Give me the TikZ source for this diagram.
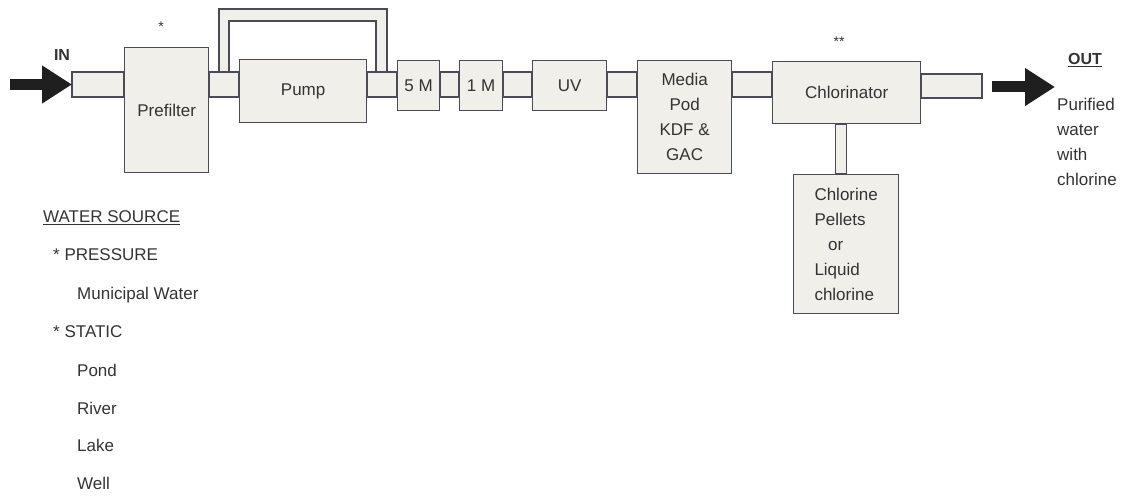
\documentclass[tikz,border=0pt]{standalone}
\usepackage{fontspec}
\setmainfont{Liberation Sans}
\usepackage{xcolor}
\usetikzlibrary{arrows.meta, positioning, calc}

\definecolor{pipeline}{HTML}{4A4A58}
\definecolor{boxfill}{HTML}{F1EFEA}
\definecolor{inktext}{HTML}{333333}

\tikzset{
  unit/.style={draw=pipeline, fill=boxfill, line width=1.3pt, text=inktext,
    font=\fontsize{17}{25}\selectfont, align=center, inner sep=0pt, anchor=north west},
  pipe/.style={draw=pipeline, fill=boxfill, line width=1.3pt},
  flow/.style={-{Triangle[length=30pt,width=36pt]}, line width=11pt, black!88},
  note/.style={text=inktext, font=\fontsize{17}{25}\selectfont, anchor=west, inner sep=0pt},
  tag/.style={text=inktext, font=\bfseries\fontsize{16}{18}\selectfont, inner sep=0pt}
}

\begin{document}
\begin{tikzpicture}[x=1pt,y=-1pt]
  \useasboundingbox (0,0) rectangle (1121,497);

  % Treatment units
  \node[unit, minimum width=84pt, minimum height=125pt] (prefilter) at (124,47) {Prefilter};
  \node[unit, minimum width=127pt, minimum height=63pt] (pump) at (239,59) {Pump};
  \node[unit, minimum width=42pt, minimum height=50pt] (fivem) at (397,60) {5 M};
  \node[unit, minimum width=43pt, minimum height=50pt] (onem) at (459,60) {1 M};
  \node[unit, minimum width=74pt, minimum height=50pt] (uv) at (532,60) {UV};
  \node[unit, minimum width=94pt, minimum height=113pt] (media) at (637,60) {Media\\Pod\\KDF \&\\GAC};
  \node[unit, minimum width=148pt, minimum height=62pt] (chlor) at (772,61) {Chlorinator};
  \node[unit, minimum width=105pt, minimum height=139pt, align=left] (pellets) at (793,174)
    {Chlorine\\Pellets\\\hspace{0.8em}or\\Liquid\\chlorine};

  % Pipe work
  \coordinate (pipetop) at (0,72);
  \coordinate (pipebot) at (0,97);
  \coordinate (inlet) at (72,84.5);
  \coordinate (outtop) at (0,74);
  \coordinate (outlet) at (982,98);
  \draw[pipe] (inlet |- pipetop) rectangle (prefilter.west |- pipebot);
  \foreach \a/\b in {prefilter/pump, pump/fivem, fivem/onem, onem/uv, uv/media, media/chlor}
    \draw[pipe] (\a.east |- pipetop) rectangle (\b.west |- pipebot);
  \draw[pipe] (chlor.east |- outtop) rectangle (outlet);
  \draw[pipe] ([xshift=-11pt]chlor.south) rectangle (pellets.north);

  % Pump bypass
  \draw[pipe] (219,72) -- (219,9) -- (387,9) -- (387,72) -- (376,72)
    -- (376,21) -- (229,21) -- (229,72) -- cycle;

  % Flow in / out
  \coordinate (source) at (10,84.5);
  \coordinate (outstart) at (992,87);
  \coordinate (outtip) at (1055,87);
  \draw[flow] (source) -- (inlet);
  \draw[flow] (outstart) -- (outtip);

  % Labels
  \node[tag] (inlabel) at (62,55) {IN};
  \node[tag] (outlabel) at (1085,60) {\underline{OUT}};
  \node[text=inktext, font=\fontsize{14}{16}\selectfont] (star1) at (161,27) {*};
  \node[text=inktext, font=\fontsize{14}{16}\selectfont] (star2) at (839,42) {**};
  \node[note, anchor=north west, align=left] (product) at (1057,98) {Purified\\water\\with\\chlorine};

  % Water source list
  \node[note] (sourcehead) at (43,218) {\underline{WATER SOURCE}};
  \foreach \t/\x/\y [count=\i] in {* PRESSURE/53/255, Municipal Water/77/295, * STATIC/53/332,
      Pond/77/370, River/77/408, Lake/77/445, Well/77/483}
    \node[note] (src\i) at (\x,\y) {\t};
\end{tikzpicture}
\end{document}
